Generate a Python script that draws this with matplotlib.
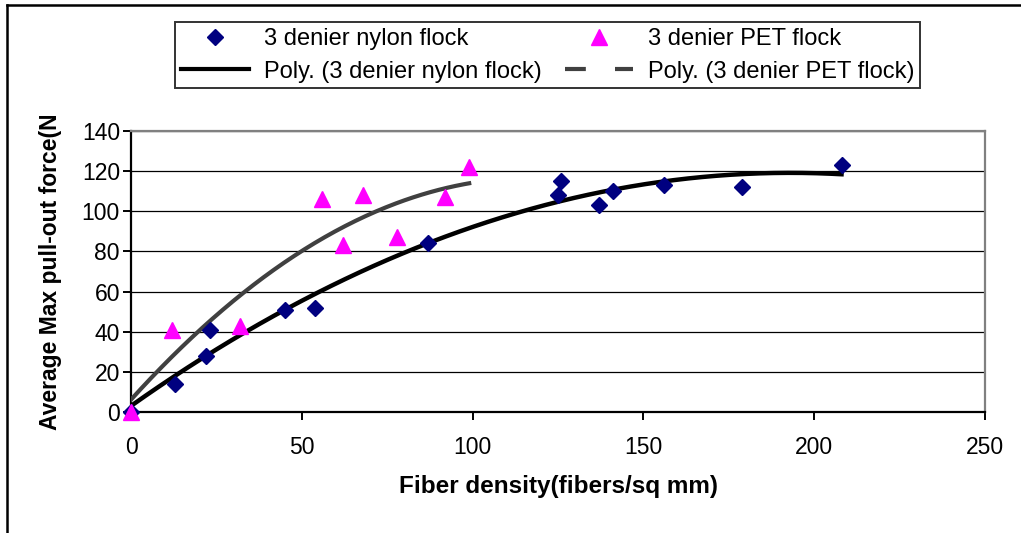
import numpy as np
import matplotlib
matplotlib.use("Agg")
import matplotlib.pyplot as plt
from matplotlib.lines import Line2D

# data
nylon_x = [0, 13, 22, 23, 45, 54, 87, 125, 126, 137, 141, 156, 179, 208]
nylon_y = [0, 14, 28, 41, 51, 52, 84, 108, 115, 103, 110, 113, 112, 123]
pet_x = [0, 12, 32, 56, 62, 68, 78, 92, 99]
pet_y = [0, 41, 43, 106, 83, 108, 87, 107, 122]

labels = ["3 denier nylon flock", "3 denier PET flock",
          "Poly. (3 denier nylon flock)", "Poly. (3 denier PET flock)"]
x_ticks = [0, 50, 100, 150, 200, 250]
y_ticks = [0, 20, 40, 60, 80, 100, 120, 140]

plt.rcParams["font.family"] = ["Liberation Sans", "DejaVu Sans"]

fig = plt.figure(figsize=(10.21, 5.33), dpi=100)
ax = fig.add_axes([131 / 1021, 1 - 412 / 533, (985 - 131) / 1021, (412 - 131) / 533])

# second order trend lines (Excel "Poly.")
cn = np.polyfit(nylon_x, nylon_y, 2)
cp = np.polyfit(pet_x, pet_y, 2)
xn = np.linspace(0, max(nylon_x), 200)
xp = np.linspace(0, max(pet_x), 200)

ax.plot(xp, np.polyval(cp, xp), color="#404040", lw=3.0, zorder=3)
ax.plot(xn, np.polyval(cn, xn), color="black", lw=3.2, zorder=3)
ax.plot(nylon_x, nylon_y, ls="none", marker="D", ms=8, color="#000080",
        mec="#000080", zorder=4, clip_on=False)
ax.plot(pet_x, pet_y, ls="none", marker="^", ms=11, color="#FF00FF",
        mec="#FF00FF", zorder=5, clip_on=False)

ax.set_xlim(0, 250)
ax.set_ylim(0, 140)
ax.set_xticks(x_ticks)
ax.set_yticks(y_ticks)
ax.yaxis.grid(True, color="black", lw=0.9)
ax.set_axisbelow(True)

for s in ["left", "bottom"]:
    ax.spines[s].set_color("black")
    ax.spines[s].set_linewidth(1.6)
for s in ["top", "right"]:
    ax.spines[s].set_color("#808080")
    ax.spines[s].set_linewidth(1.6)

ax.tick_params(axis="both", direction="out", length=5.5, width=1.4, labelsize=16.5)
ax.tick_params(axis="x", pad=12)
ax.tick_params(axis="y", pad=2.5)

ax.set_xlabel("Fiber density(fibers/sq mm)", fontsize=17.5, fontweight="bold", labelpad=11)
ax.set_ylabel("Average Max pull-out force(N", fontsize=16.5, fontweight="bold", labelpad=14)

h_nylon = Line2D([], [], ls="none", marker="D", ms=8, color="#000080")
h_pet = Line2D([], [], ls="none", marker="^", ms=11, color="#FF00FF")
h_poly_nylon = Line2D([], [], color="black", lw=3)
h_poly_pet = Line2D([], [], color="#404040", lw=3, dashes=(5, 7))

# legend fills column by column: nylon pair first, then PET pair
leg = fig.legend([h_nylon, h_poly_nylon, h_pet, h_poly_pet],
                 [labels[0], labels[2], labels[1], labels[3]],
                 loc="upper left", ncol=2,
                 bbox_to_anchor=(175 / 1021, 1 - 22 / 533),
                 fontsize=17, frameon=True, fancybox=False,
                 handlelength=2.9, handletextpad=0.6, columnspacing=1.0,
                 labelspacing=0.45, borderpad=0.25, borderaxespad=0)
leg.get_frame().set_edgecolor("black")
leg.get_frame().set_linewidth(1.4)

# outer chart-area border (only top and left visible in the reference)
fig.add_artist(Line2D([7 / 1021, 1], [1 - 5 / 533, 1 - 5 / 533], color="black", lw=1.8))
fig.add_artist(Line2D([7 / 1021, 7 / 1021], [0, 1 - 5 / 533], color="black", lw=1.8))

fig.savefig("out.png", dpi=100)
